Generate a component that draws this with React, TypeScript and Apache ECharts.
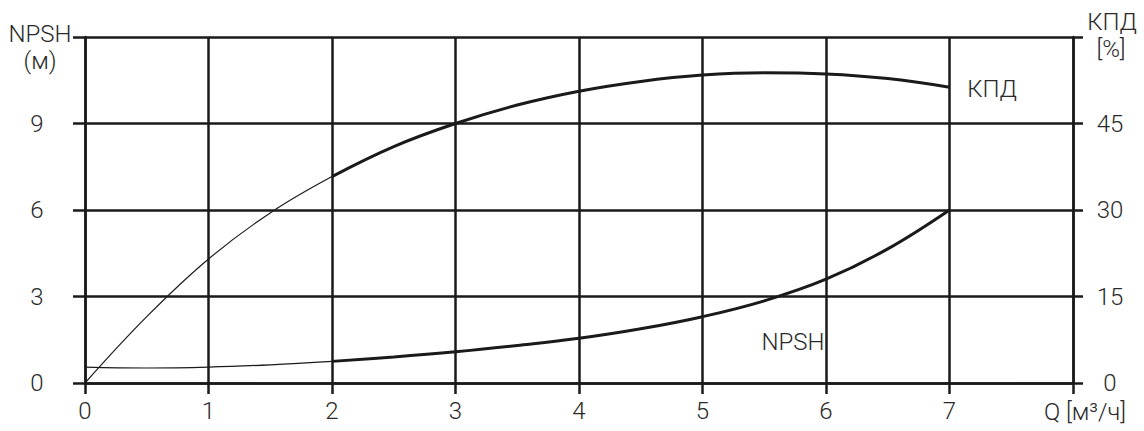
import React, { useEffect, useRef } from "react";
import * as echarts from "echarts";

const flowQ = [0, 0.5, 1, 1.5, 2, 2.5, 3, 3.5, 4, 4.5, 5, 5.5, 6, 6.5, 7];
const efficiency = [0, 11.5, 21.5, 29.5, 35.8, 41, 45, 48.2, 50.6, 52.3, 53.4, 53.8, 53.6, 52.8, 51.3];
const npsh = [0.55, 0.52, 0.55, 0.63, 0.75, 0.9, 1.08, 1.3, 1.55, 1.88, 2.3, 2.85, 3.6, 4.65, 6.0];
const thinUntil = 2;
const xTicks = [0, 1, 2, 3, 4, 5, 6, 7, 8];
const leftTicks = [0, 3, 6, 9, 12];
const rightTicks = [0, 15, 30, 45, 60];

const FONT = "Roboto";
const TXT = "#2a2a2a";
const LINE = "#1a1a1a";

function part(vals: number[], thin: boolean) {
  const out: number[][] = [];
  flowQ.forEach((q, i) => {
    if (thin ? q <= thinUntil : q >= thinUntil) out.push([q, vals[i]]);
  });
  return out;
}

export default function App() {
  const ref = useRef<HTMLDivElement>(null);
  useEffect(() => {
    const chart = echarts.init(ref.current!, null, { renderer: "svg" });
    const labelStyle = { color: TXT, fontFamily: FONT, fontWeight: 300 as any, fontSize: 24 };
    chart.setOption({
      animation: false,
      grid: { left: 85, right: 71, top: 37, bottom: 48 },
      xAxis: {
        type: "value",
        min: 0,
        max: 8,
        interval: 1,
        axisLine: { show: true, lineStyle: { color: LINE, width: 2.5 } },
        axisTick: { show: true, length: 11, lineStyle: { color: LINE, width: 2.5 } },
        splitLine: { show: true, lineStyle: { color: LINE, width: 2.5 } },
        axisLabel: {
          ...labelStyle,
          margin: 16,
          showMaxLabel: true,
          formatter: (v: number) => (v === xTicks[xTicks.length - 1] ? "" : String(v)),
        },
      },
      yAxis: [
        {
          type: "value",
          min: 0,
          max: leftTicks[leftTicks.length - 1],
          interval: 3,
          position: "left",
          axisLine: { show: true, lineStyle: { color: LINE, width: 2.5 } },
          axisTick: { show: true, length: 12, lineStyle: { color: LINE, width: 2.5 } },
          splitLine: { show: true, lineStyle: { color: LINE, width: 2.5 } },
          axisLabel: {
            ...labelStyle,
            align: "center",
            margin: 48,
            formatter: (v: number) => (v === leftTicks[leftTicks.length - 1] ? "" : String(v)),
          },
        },
        {
          type: "value",
          min: 0,
          max: rightTicks[rightTicks.length - 1],
          interval: 15,
          position: "right",
          axisLine: { show: true, lineStyle: { color: LINE, width: 2.5 } },
          axisTick: { show: true, length: 10, lineStyle: { color: LINE, width: 2.5 } },
          splitLine: { show: false },
          axisLabel: {
            ...labelStyle,
            align: "center",
            margin: 37,
            formatter: (v: number) => (v === rightTicks[rightTicks.length - 1] ? "" : String(v)),
          },
        },
      ],
      series: [
        {
          type: "line", yAxisIndex: 1, data: part(efficiency, true), smooth: 0.4,
          showSymbol: false, lineStyle: { color: LINE, width: 1.2 },
        },
        {
          type: "line", yAxisIndex: 1, data: part(efficiency, false), smooth: 0.4,
          showSymbol: false, lineStyle: { color: LINE, width: 3 },
        },
        {
          type: "line", yAxisIndex: 0, data: part(npsh, true), smooth: 0.4,
          showSymbol: false, lineStyle: { color: LINE, width: 1.2 },
        },
        {
          type: "line", yAxisIndex: 0, data: part(npsh, false), smooth: 0.4,
          showSymbol: false, lineStyle: { color: LINE, width: 3 },
        },
      ],
      graphic: [
        { type: "text", x: 40, y: 34, style: { text: "NPSH", ...labelStyle, fill: TXT, align: "center", verticalAlign: "middle" } },
        { type: "text", x: 40, y: 61, style: { text: "(м)", ...labelStyle, fill: TXT, align: "center", verticalAlign: "middle" } },
        { type: "text", x: 1112, y: 22, style: { text: "КПД", ...labelStyle, fill: TXT, align: "center", verticalAlign: "middle" } },
        { type: "text", x: 1111, y: 49, style: { text: "[%]", ...labelStyle, fill: TXT, align: "center", verticalAlign: "middle" } },
        { type: "text", x: 1085, y: 412, style: { text: "Q [м³/ч]", ...labelStyle, fill: TXT, align: "center", verticalAlign: "middle" } },
        { type: "text", x: 992, y: 89, style: { text: "КПД", ...labelStyle, fill: TXT, align: "center", verticalAlign: "middle" } },
        { type: "text", x: 793, y: 342, style: { text: "NPSH", ...labelStyle, fill: TXT, align: "center", verticalAlign: "middle" } },
      ],
    });
    return () => chart.dispose();
  }, []);
  return (
    <div
      ref={ref}
      style={{ position: "fixed", left: 0, top: 0, width: 1144, height: 431, background: "#fff" }}
    />
  );
}
